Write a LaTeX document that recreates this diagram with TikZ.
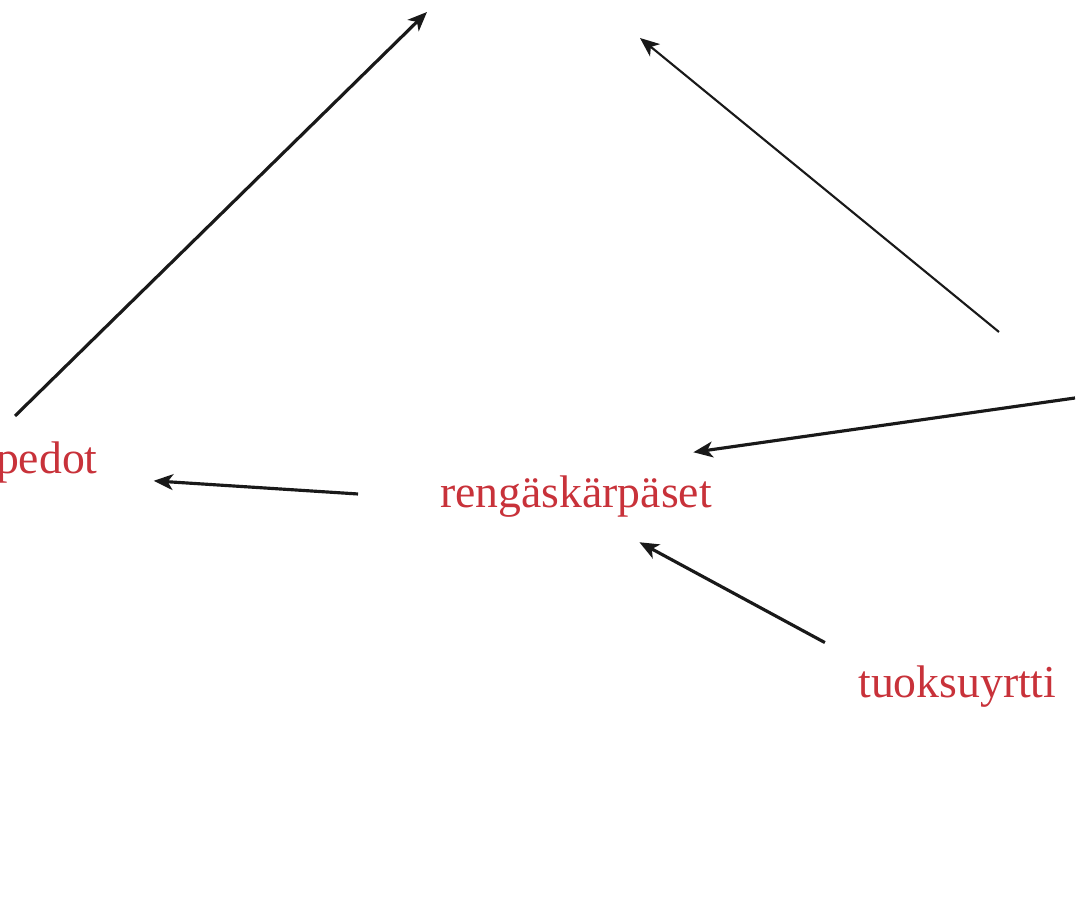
\documentclass[tikz,border=0pt]{standalone}
\usepackage{fontspec}
\setmainfont{Liberation Serif}
\usepackage{tikz}
\usetikzlibrary{arrows.meta,positioning}
\usepackage{xcolor}
\definecolor{labelred}{RGB}{200,50,58}
\tikzset{
plantlbl/.style={inner sep=0pt,text=labelred,font=\fontsize{26}{30}\selectfont},
linkarr/.style={line width=1.8pt,-{Stealth[length=11pt,width=9pt,inset=3pt]},draw=black!90},
thinarr/.style={linkarr,line width=1.2pt}
}
\begin{document}
\begin{tikzpicture}
\useasboundingbox (0,0) rectangle (21.58,18.42);
\node[plantlbl,anchor=base east] (pedot) at (1.96,8.94) {pedot};
\node[plantlbl,anchor=base west] (rgk) at (8.80,8.26) {rengäskärpäset};
\node[plantlbl,anchor=base west] (tuok) at (17.16,4.46) {tuoksuyrtti};

\coordinate (upA) at (0.30,10.10);
\coordinate (topA) at (8.54,18.18);
\coordinate (upB) at (19.98,11.78);
\coordinate (topB) at (12.80,17.66);
\coordinate (rightC) at (21.50,10.46);

\draw[linkarr] (upA) -- (topA);
\draw[thinarr] (upB) -- (topB);
\draw[linkarr,shorten >=2.37cm] (rightC) -- ([yshift=0.14cm]rgk.north);
\draw[linkarr,shorten <=4.37cm,shorten >=2.14cm] (rgk.base) -- (pedot.base);
\draw[linkarr,shorten <=2.33cm,shorten >=1.44cm] ([xshift=-0.6cm]tuok.base) -- (rgk.base);
\end{tikzpicture}
\end{document}
